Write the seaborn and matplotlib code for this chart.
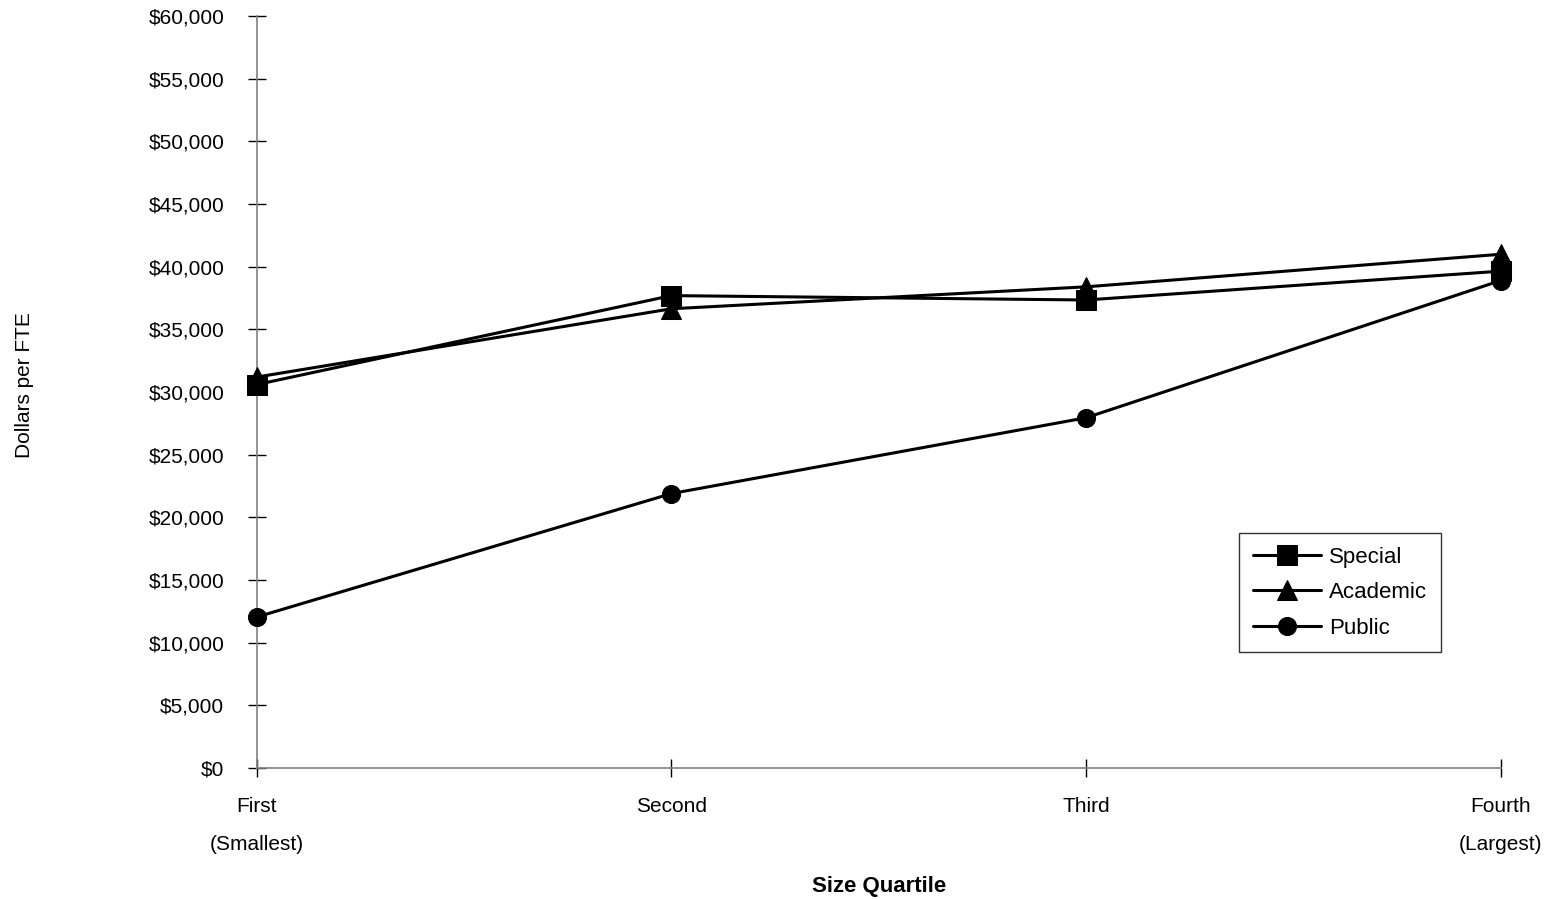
import numpy as np
import pandas as pd
import matplotlib
matplotlib.use('Agg')
import matplotlib.pyplot as plt
import seaborn as sns
from matplotlib.ticker import FuncFormatter

# values
quartiles = ['First\n(Smallest)', 'Second', 'Third', 'Fourth\n(Largest)']
special = [30600, 37700, 37350, 39650]
academic = [31200, 36650, 38400, 41000]
public = [12050, 21900, 27950, 38900]

df = pd.DataFrame({
    'pos': list(range(4)) * 3,
    'value': special + academic + public,
    'type': ['Special'] * 4 + ['Academic'] * 4 + ['Public'] * 4,
})

sns.set_style('ticks')
plt.rcParams['font.family'] = ['Liberation Sans', 'DejaVu Sans']
plt.rcParams['text.color'] = 'black'
plt.rcParams['xtick.color'] = 'black'
plt.rcParams['ytick.color'] = 'black'
plt.rcParams['axes.labelcolor'] = 'black'

fig = plt.figure(figsize=(15.47, 9), dpi=100)
ax = fig.add_axes([0.166, 0.1467, 0.804, 0.8353])

marks = {'Special': ('s', 14), 'Academic': ('^', 15), 'Public': ('o', 13)}
for name in ['Public', 'Academic', 'Special']:
    m, ms = marks[name]
    sub = df[df['type'] == name]
    sns.lineplot(data=sub, x='pos', y='value', ax=ax, color='black', lw=2.2,
                 marker=m, markersize=ms, markeredgecolor='black', label=name,
                 clip_on=False, zorder=3)

ax.set_xlim(0, 3)
ax.set_ylim(0, 60000)
ax.set_yticks(np.arange(0, 60001, 5000))
ax.yaxis.set_major_formatter(FuncFormatter(lambda v, p: '${:,.0f}'.format(v)))
ax.set_xticks(range(4))
ax.set_xticklabels(quartiles, linespacing=2.25)

for s in ['top', 'right']:
    ax.spines[s].set_visible(False)
for s in ['left', 'bottom']:
    ax.spines[s].set_color('#808080')
    ax.spines[s].set_linewidth(1.2)

ax.tick_params(axis='both', direction='inout', length=13, width=1, color='black',
               labelsize=15)
ax.tick_params(axis='y', pad=17)
ax.tick_params(axis='x', pad=14.5)

ax.set_xlabel('Size Quartile', fontsize=16, fontweight='bold', labelpad=16)
ax.set_ylabel('')
fig.text(0.016, 0.572, 'Dollars per FTE', rotation=90, va='center', ha='center',
         fontsize=15)

handles, labels = ax.get_legend_handles_labels()
order = [labels.index(n) for n in ['Special', 'Academic', 'Public']]
leg = ax.legend([handles[i] for i in order], [labels[i] for i in order],
                loc='upper left', bbox_to_anchor=(0.7895, 0.3125), fontsize=16,
                frameon=True, fancybox=False, edgecolor='black', handlelength=3.1,
                handletextpad=0.35, labelspacing=0.65, borderpad=0.62,
                borderaxespad=0)
leg.get_frame().set_linewidth(1.0)

fig.savefig('out.png', dpi=100)
